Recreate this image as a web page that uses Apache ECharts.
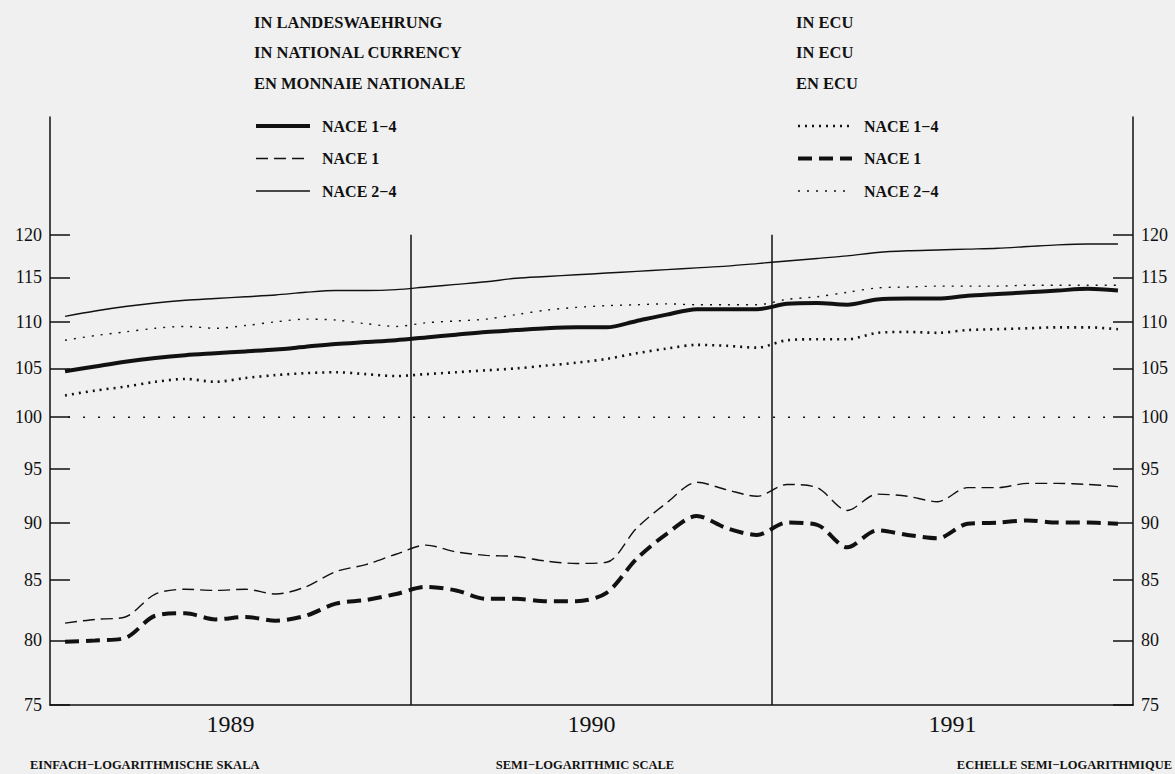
<!DOCTYPE html>
<html>
<head>
<meta charset="utf-8">
<script src="https://cdn.jsdelivr.net/npm/echarts@6/dist/echarts.min.js"></script>
<style>
html,body{margin:0;padding:0;background:#f0f0f0;}
#c{width:1175px;height:774px;}
</style>
</head>
<body>
<div id="c"></div>
<script>
// ---- data ----
const months = ['1989-01','1989-02','1989-03','1989-04','1989-05','1989-06','1989-07','1989-08','1989-09','1989-10','1989-11','1989-12',
                '1990-01','1990-02','1990-03','1990-04','1990-05','1990-06','1990-07','1990-08','1990-09','1990-10','1990-11','1990-12',
                '1991-01','1991-02','1991-03','1991-04','1991-05','1991-06','1991-07','1991-08','1991-09','1991-10','1991-11','1991-12'];
const quarters = ['89Q1','89Q2','89Q3','89Q4','90Q1','90Q2','90Q3','90Q4','91Q1','91Q2','91Q3','91Q4'];
const years = ['1989','1990','1991'];
const yTicks = [75, 80, 85, 90, 95, 100, 105, 110, 115, 120];
const yMin = 75, yMax = 135;
const yearBoundaries = [12, 24];
const baseline = 100;

// In national currency
const nat14 = [104.7,105.2,105.7,106.1,106.4,106.6,106.8,107.0,107.3,107.6,107.8,108.0,
               108.3,108.6,108.9,109.1,109.3,109.4,109.4,110.1,110.8,111.4,111.4,111.4,
               112.0,112.1,111.9,112.5,112.6,112.6,112.9,113.1,113.3,113.5,113.7,113.5];
const nat1  = [81.4,81.7,81.9,83.8,84.2,84.1,84.2,83.8,84.4,85.7,86.3,87.2,
               88.0,87.4,87.1,87.0,86.6,86.4,86.5,89.5,91.8,93.7,93.0,92.4,
               93.5,93.2,91.1,92.6,92.4,91.9,93.2,93.2,93.6,93.6,93.5,93.3];
const nat24 = [110.6,111.2,111.7,112.1,112.4,112.6,112.8,113.0,113.3,113.5,113.5,113.6,
               113.9,114.2,114.5,114.9,115.1,115.3,115.5,115.7,115.9,116.1,116.3,116.6,
               116.9,117.2,117.5,117.9,118.1,118.2,118.3,118.4,118.6,118.8,118.9,118.9];
// In ECU
const ecu14 = [102.2,102.7,103.1,103.6,103.9,103.6,104.0,104.3,104.5,104.6,104.4,104.2,
               104.4,104.6,104.8,105.0,105.3,105.6,106.0,106.6,107.1,107.5,107.4,107.2,
               108.0,108.1,108.1,108.8,108.9,108.8,109.1,109.2,109.3,109.4,109.4,109.2];
const ecu1  = [79.9,80.0,80.2,82.0,82.2,81.7,81.9,81.6,82.0,83.0,83.3,83.8,
               84.4,84.1,83.4,83.4,83.2,83.2,83.9,86.8,89.0,90.6,89.5,88.9,
               90.0,89.8,87.8,89.3,88.9,88.6,89.9,90.0,90.2,90.0,90.0,89.9];
const ecu24 = [108.0,108.5,108.9,109.3,109.5,109.3,109.6,110.0,110.3,110.2,109.8,109.5,
               109.9,110.1,110.3,110.8,111.3,111.6,111.8,111.9,112.0,111.9,111.9,111.9,
               112.5,112.8,113.3,113.8,113.9,114.0,114.0,114.0,114.1,114.1,114.1,114.1];

const legendNames = {
  nat14: 'NACE 1\u22124', nat1: 'NACE 1', nat24: 'NACE 2\u22124',
  ecu14: 'NACE 1\u22124', ecu1: 'NACE 1', ecu24: 'NACE 2\u22124'
};

// ---- build ----
const L = Math.log;
const lg = arr => arr.map(v => L(v));
const INK = '#111';
const serif = 'Liberation Serif';

function lineSeries(name, data, width, dash) {
  return {
    name: name, type: 'line', xAxisIndex: 0, yAxisIndex: 0,
    data: lg(data), symbol: 'none', symbolSize: 0, smooth: 0.3, silent: true,
    lineStyle: { color: INK, width: width, type: dash || 'solid' },
    itemStyle: { color: INK }
  };
}

const series = [
  lineSeries('nat14', nat14, 4),
  lineSeries('nat1', nat1, 1.4, [12, 6]),
  lineSeries('nat24', nat24, 1.4),
  lineSeries('ecu14', ecu14, 2.6, [2, 5]),
  lineSeries('ecu1', ecu1, 4, [14, 7]),
  lineSeries('ecu24', ecu24, 1.4, [2, 7])
];
yearBoundaries.forEach((b, k) => {
  series.push({
    name: 'year' + k, type: 'line', xAxisIndex: 3, yAxisIndex: 0, symbol: 'none', silent: true,
    data: [[b, L(yMin)], [b, L(120)]],
    lineStyle: { color: INK, width: 1.5 }
  });
});
series.push({
  name: 'base', type: 'line', xAxisIndex: 3, yAxisIndex: 0, symbol: 'none', silent: true,
  data: [[0.6, L(baseline)], [35.5, L(baseline)]],
  lineStyle: { color: INK, width: 1.6, type: [2, 13] }
});

const yAxisCommon = {
  type: 'value', min: L(yMin), max: L(yMax),
  axisLine: { show: true, lineStyle: { color: INK, width: 1.5 } },
  axisTick: { show: true, inside: true, length: 20, customValues: yTicks.map(L), lineStyle: { color: INK, width: 1.5 } },
  axisLabel: { show: true, customValues: yTicks.map(L), formatter: v => String(Math.round(Math.exp(v))),
               color: INK, fontFamily: serif, fontSize: 18, margin: 8 },
  splitLine: { show: false }
};

const legendCommon = {
  orient: 'vertical', top: 118, itemWidth: 54, itemHeight: 14, itemGap: 16.5, padding: 0,
  selectedMode: false, formatter: n => legendNames[n],
  itemStyle: { opacity: 0, borderWidth: 0 },
  lineStyle: { width: 'inherit', type: 'inherit', color: 'inherit' },
  textStyle: { fontFamily: serif, fontWeight: 'bold', fontSize: 16, color: INK, padding: [0, 0, 0, 7] }
};

function txt(x, y, s, size, align) {
  return { type: 'text', x: x, y: y, silent: true,
    style: { text: s, fill: INK, font: 'bold ' + size + 'px "' + serif + '"', textAlign: align || 'left', textVerticalAlign: 'middle' } };
}

const option = {
  backgroundColor: '#f0f0f0',
  animation: false,
  grid: { left: 50, right: 42, top: 117, bottom: 69, containLabel: false },
  xAxis: [
    { type: 'category', data: months, position: 'bottom', boundaryGap: true,
      axisLine: { onZero: false, lineStyle: { color: INK, width: 1.5 } },
      axisTick: { inside: true, length: 8, lineStyle: { color: INK, width: 1.5 } },
      axisLabel: { show: false }, splitLine: { show: false } },
    { type: 'category', data: quarters, position: 'bottom', boundaryGap: true,
      axisLine: { show: false, onZero: false },
      axisTick: { inside: true, length: 18, lineStyle: { color: INK, width: 1.5 } },
      axisLabel: { show: false }, splitLine: { show: false } },
    { type: 'category', data: years, position: 'bottom', boundaryGap: true,
      axisLine: { show: false, onZero: false }, axisTick: { show: false },
      axisLabel: { show: true, color: INK, fontFamily: serif, fontSize: 24, margin: 7 },
      splitLine: { show: false } },
    { type: 'value', min: 0, max: 36, show: false }
  ],
  yAxis: [
    Object.assign({}, yAxisCommon, { position: 'left' }),
    Object.assign({}, yAxisCommon, { position: 'right' })
  ],
  legend: [
    Object.assign({}, legendCommon, { left: 254, data: ['nat14', 'nat1', 'nat24'] }),
    Object.assign({}, legendCommon, { left: 796, data: ['ecu14', 'ecu1', 'ecu24'] })
  ],
  graphic: [
    txt(254, 22, 'IN LANDESWAEHRUNG', 16.5),
    txt(254, 52, 'IN NATIONAL CURRENCY', 16.5),
    txt(254, 83, 'EN MONNAIE NATIONALE', 16.5),
    txt(796, 22, 'IN ECU', 16.5),
    txt(796, 52, 'IN ECU', 16.5),
    txt(796, 83, 'EN ECU', 16.5),
    txt(30, 765, 'EINFACH\u2212LOGARITHMISCHE SKALA', 12.5),
    txt(585, 765, 'SEMI\u2212LOGARITHMIC SCALE', 12.5, 'center'),
    txt(1172, 765, 'ECHELLE SEMI\u2212LOGARITHMIQUE', 12.5, 'right')
  ],
  series: series
};

const chart = echarts.init(document.getElementById('c'), null, { renderer: 'svg' });
chart.setOption(option);
</script>
</body>
</html>
